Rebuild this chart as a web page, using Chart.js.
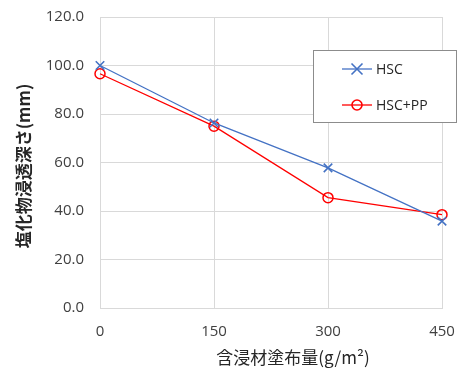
<!DOCTYPE html>
<html>
<head>
<meta charset="utf-8">
<script src="https://cdn.jsdelivr.net/npm/chart.js@4/dist/chart.umd.min.js"></script>
<style>
  html, body { margin: 0; padding: 0; background: #fff; }
  #wrap { width: 475px; height: 374px; }
</style>
</head>
<body>
<div id="wrap"><canvas id="chart" width="475" height="374"></canvas></div>
<script>
// data
const amounts = ['0', '150', '300', '450'];
const hsc = [100.0, 76.3, 57.8, 35.8];
const hscPP = [96.6, 75.0, 45.5, 38.5];
const yTicks = [0, 20, 40, 60, 80, 100, 120];
const xTitle = '含浸材塗布量(g/m²)';
const yTitle = '塩化物浸透深さ(mm)';

const fontFamily = '"Open Sans", "Noto Sans CJK JP", sans-serif';
const cjkFamily = '"Noto Sans CJK JP", "Open Sans", sans-serif';
const textColor = '#404040';

// boxed legend and axis titles placed like the Excel original
const decorations = {
    id: 'decorations',
    afterDraw(chart) {
        const ctx = chart.ctx;
        const x = 313, y = 50, w = 143, h = 72;
        ctx.save();
        ctx.fillStyle = '#fff';
        ctx.fillRect(x, y, w, h);
        ctx.strokeStyle = '#8c8c8c';
        ctx.lineWidth = 1;
        ctx.strokeRect(x + 0.5, y + 0.5, w, h);
        chart.data.datasets.forEach((ds, i) => {
            const cy = y + 19 + i * 36;
            ctx.strokeStyle = ds.borderColor;
            ctx.lineWidth = 1.3;
            ctx.beginPath();
            ctx.moveTo(342, cy);
            ctx.lineTo(372, cy);
            ctx.stroke();
            ctx.lineWidth = 1.6;
            ctx.beginPath();
            if (ds.pointStyle === 'crossRot') {
                ctx.moveTo(351.5, cy - 5.5); ctx.lineTo(362.5, cy + 5.5);
                ctx.moveTo(362.5, cy - 5.5); ctx.lineTo(351.5, cy + 5.5);
            } else {
                ctx.arc(357, cy, 5, 0, Math.PI * 2);
            }
            ctx.stroke();
            ctx.fillStyle = '#262626';
            ctx.font = '14px ' + fontFamily;
            ctx.textBaseline = 'middle';
            ctx.fillText(ds.label, 376, cy + 1);
        });

        ctx.fillStyle = '#262626';
        ctx.font = '17px ' + cjkFamily;
        ctx.textAlign = 'center';
        ctx.textBaseline = 'middle';
        ctx.fillText(xTitle, 293, 358);

        ctx.translate(24, 166);
        ctx.rotate(-Math.PI / 2);
        ctx.font = 'bold 17px ' + cjkFamily;
        ctx.fillText(yTitle, 0, 0);
        ctx.restore();
    }
};

new Chart(document.getElementById('chart'), {
    type: 'line',
    data: {
        labels: amounts,
        datasets: [{
            label: 'HSC',
            data: hsc,
            borderColor: '#4472C4',
            backgroundColor: '#4472C4',
            borderWidth: 1.3,
            pointStyle: 'crossRot',
            pointRadius: 6,
            pointBorderWidth: 1.6,
            tension: 0
        }, {
            label: 'HSC+PP',
            data: hscPP,
            borderColor: '#FF0000',
            backgroundColor: 'rgba(0,0,0,0)',
            borderWidth: 1.3,
            pointStyle: 'circle',
            pointRadius: 5,
            pointBorderWidth: 1.5,
            tension: 0
        }]
    },
    options: {
        responsive: false,
        animation: false,
        layout: {padding: {top: 17, right: 33, bottom: 0, left: 0}},
        plugins: {legend: {display: false}, tooltip: {enabled: false}},
        scales: {
            x: {
                offset: false,
                afterFit(scale) {
                    scale.height = 66;
                    scale.paddingLeft = 0;
                    scale.paddingRight = 0;
                },
                grid: {color: '#d9d9d9', drawTicks: false},
                border: {color: '#d9d9d9'},
                ticks: {color: textColor, font: {size: 15, family: fontFamily}, padding: 15}
            },
            y: {
                min: 0,
                max: 120,
                afterBuildTicks(scale) { scale.ticks = yTicks.map(v => ({value: v})); },
                afterFit(scale) {
                    scale.width = 100;
                    scale.paddingTop = 0;
                    scale.paddingBottom = 0;
                },
                grid: {color: '#d9d9d9', drawTicks: false},
                border: {color: '#d9d9d9'},
                ticks: {
                    color: textColor,
                    font: {size: 15, family: fontFamily},
                    padding: 16,
                    callback: v => v.toFixed(1)
                }
            }
        }
    },
    plugins: [decorations]
});
</script>
</body>
</html>
